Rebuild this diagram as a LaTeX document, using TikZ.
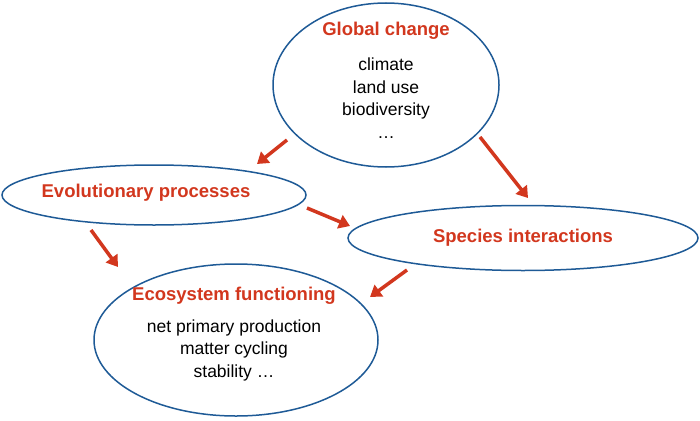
\documentclass[tikz,border=0pt]{standalone}
\usepackage{fontspec}
\setmainfont{Liberation Sans}
\usetikzlibrary{shapes.geometric,arrows.meta}
\definecolor{tred}{RGB}{210,55,30}
\definecolor{tblue}{RGB}{30,90,150}
\begin{document}
\begin{tikzpicture}[x=1pt,y=-1pt,
  ell/.style={draw=tblue,line width=1.5pt,ellipse,inner sep=0pt},
  ttl/.style={text=tred,font=\fontsize{18.5}{22}\selectfont\bfseries},
  body/.style={font=\fontsize{17.5}{22.5}\selectfont,align=center},
  arr/.style={draw=tred,line width=3.5pt,-{Triangle[length=11pt,width=14pt]}}]
\useasboundingbox (0,0) rectangle (700,420);
\node[ell,minimum width=226pt,minimum height=164pt] (g) at (386,85) {};
\node[ell,minimum width=304pt,minimum height=60pt] (e) at (154,195) {};
\node[ell,minimum width=350pt,minimum height=65pt] (s) at (523,238) {};
\node[ell,minimum width=284pt,minimum height=152pt] (f) at (236,340) {};
\node[ttl] (gt) at (386,31) {Global change};
\node[body] (gb) at (386,98) {climate\\land use\\biodiversity\\…};
\node[ttl] (et) at (146,193) {Evolutionary processes};
\node[ttl] (st) at (523,238) {Species interactions};
\node[ttl] (ft) at (234,296) {Ecosystem functioning};
\node[body] (fb) at (234,350) {net primary production\\matter cycling\\stability …};
\coordinate (a1) at (287,140); \coordinate (b1) at (257,164);
\coordinate (a2) at (480,137); \coordinate (b2) at (528,198);
\coordinate (a3) at (91,230); \coordinate (b3) at (118,267);
\coordinate (a4) at (307,208); \coordinate (b4) at (350,226);
\coordinate (a5) at (407,270); \coordinate (b5) at (370,297);
\draw[arr] (a1) -- (b1);
\draw[arr] (a2) -- (b2);
\draw[arr] (a3) -- (b3);
\draw[arr] (a4) -- (b4);
\draw[arr] (a5) -- (b5);
\end{tikzpicture}
\end{document}
